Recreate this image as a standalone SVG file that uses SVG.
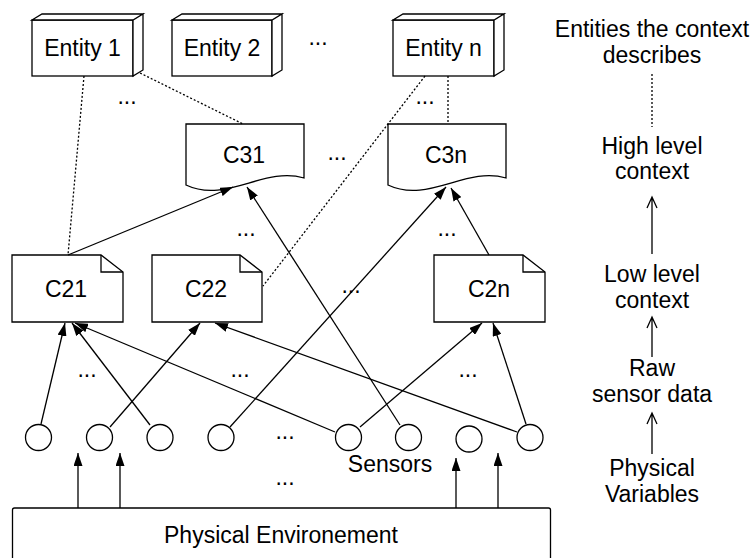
<svg xmlns="http://www.w3.org/2000/svg" width="753" height="558" viewBox="0 0 753 558">
<style>
text{font-family:"Liberation Sans",Arial,sans-serif;font-size:23px;fill:#000;text-anchor:middle}
.shape{fill:#fff;stroke:#000;stroke-width:1.3}
.edge{fill:none;stroke:#000;stroke-width:1.3}
.dot{fill:none;stroke:#000;stroke-width:1.3;stroke-dasharray:2 2}
.arr{marker-end:url(#block)}
.open{fill:none;stroke:#000;stroke-width:1.3}
</style>
<defs>
<marker id="block" viewBox="0 0 13 9" refX="13" refY="4.5" markerWidth="13" markerHeight="9" markerUnits="userSpaceOnUse" orient="auto">
<path d="M0,0 L13,4.5 L0,9 z" fill="#000"/>
</marker>
</defs>
<rect width="753" height="558" fill="#fff"/>

<g id="entity1">
<rect class="shape" x="32" y="20" width="101" height="56"/>
<path class="shape" d="M32,20 L42,14 L143,14 L133,20 z M133,20 L143,14 L143,70 L133,76 z"/>
<text x="82.5" y="55.5">Entity 1</text>
</g>
<g id="entity2">
<rect class="shape" x="172" y="20" width="100" height="56"/>
<path class="shape" d="M172,20 L182,14 L282,14 L272,20 z M272,20 L282,14 L282,70 L272,76 z"/>
<text x="222" y="55.5">Entity 2</text>
</g>
<g id="entityn">
<rect class="shape" x="393" y="20" width="101" height="56"/>
<path class="shape" d="M393,20 L403,14 L504,14 L494,20 z M494,20 L504,14 L504,70 L494,76 z"/>
<text x="443.5" y="55.5">Entity n</text>
</g>

<g id="c31">
<path class="shape" d="M186,124 H304 V178 C264,166 226,204 186,185 z"/>
<text x="244" y="163">C31</text>
</g>
<g id="c3n">
<path class="shape" d="M388,124 H506 V178 C466,166 428,204 388,185 z"/>
<text x="446" y="163">C3n</text>
</g>

<g id="c21">
<path class="shape" d="M12,255 H101 L123,272 V322 H12 z"/>
<path class="edge" d="M101,255 V272 H123"/>
<text x="66" y="297">C21</text>
</g>
<g id="c22">
<path class="shape" d="M152,255 H240 L262,272 V322 H152 z"/>
<path class="edge" d="M240,255 V272 H262"/>
<text x="206" y="297">C22</text>
</g>
<g id="c2n">
<path class="shape" d="M434,255 H523 L545,272 V322 H434 z"/>
<path class="edge" d="M523,255 V272 H545"/>
<text x="489" y="297">C2n</text>
</g>

<g id="sensors">
<circle class="shape" cx="38.5" cy="437.5" r="13"/>
<circle class="shape" cx="99.5" cy="437.5" r="13"/>
<circle class="shape" cx="160" cy="437.5" r="13"/>
<circle class="shape" cx="221" cy="437.5" r="13"/>
<circle class="shape" cx="348.5" cy="437.5" r="13"/>
<circle class="shape" cx="408.5" cy="437.5" r="13"/>
<circle class="shape" cx="469" cy="439" r="13"/>
<circle class="shape" cx="530" cy="437.5" r="13"/>
<text x="390" y="472">Sensors</text>
</g>

<g id="environment">
<rect class="shape" x="12.5" y="508" width="538" height="70" rx="2"/>
<text x="281" y="543">Physical Environement</text>
</g>

<g id="connectors">
<path class="dot" d="M84,76 L68,255"/>
<path class="dot" d="M140,73 L243,124"/>
<path class="dot" d="M425,76 L263,286"/>
<path class="dot" d="M448,76 L448,124"/>

<path class="edge arr" d="M68,255 L233,187"/>
<path class="edge arr" d="M400,425 L247,187"/>
<path class="edge arr" d="M230,427 L446,187"/>
<path class="edge arr" d="M489,255 L451,188"/>
<path class="edge arr" d="M41,424 L65,323"/>
<path class="edge arr" d="M150,425 L72,323"/>
<path class="edge arr" d="M335,432 L75,323"/>
<path class="edge arr" d="M110,427 L200,323"/>
<path class="edge arr" d="M517,432 L215,323"/>
<path class="edge arr" d="M360,427 L482,323"/>
<path class="edge arr" d="M526,424 L493,323"/>

<path class="edge arr" d="M78,508 L78,453"/>
<path class="edge arr" d="M120,508 L120,453"/>
<path class="edge arr" d="M456,508 L456,458"/>
<path class="edge arr" d="M498,508 L498,453"/>
</g>

<g id="ellipses">
<text x="318" y="45">...</text>
<text x="127" y="104">...</text>
<text x="425" y="104">...</text>
<text x="337" y="160">...</text>
<text x="246" y="236">...</text>
<text x="447" y="236">...</text>
<text x="351" y="293">...</text>
<text x="87" y="377">...</text>
<text x="240" y="377">...</text>
<text x="468" y="377">...</text>
<text x="285" y="439">...</text>
<text x="285" y="485">...</text>
</g>

<g id="legend">
<text x="652" y="37">Entities the context</text>
<text x="652" y="63">describes</text>
<path class="dot" d="M652,74 V127"/>
<text x="652" y="154">High level</text>
<text x="652" y="179">context</text>
<path class="open" d="M652,254 V197 M647,208 L652,197 L657,208"/>
<text x="652" y="282">Low level</text>
<text x="652" y="308">context</text>
<path class="open" d="M652,357 V317 M647,328 L652,317 L657,328"/>
<text x="652" y="376">Raw</text>
<text x="652" y="402">sensor data</text>
<path class="open" d="M652,454 V413 M647,424 L652,413 L657,424"/>
<text x="652" y="476">Physical</text>
<text x="652" y="502">Variables</text>
</g>
</svg>
